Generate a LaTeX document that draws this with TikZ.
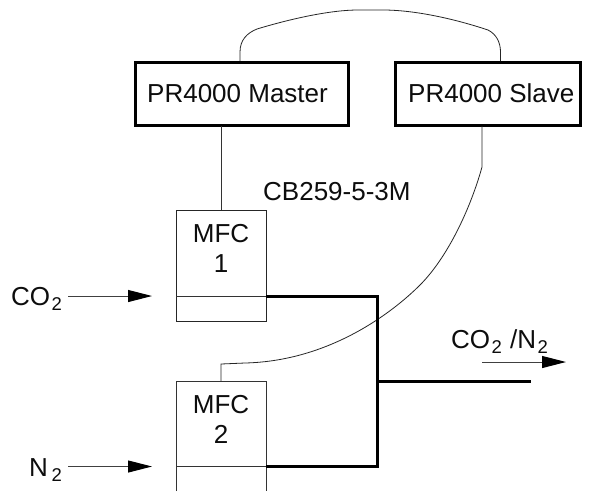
\documentclass[tikz,border=0pt]{standalone}
\usepackage{fontspec}
\setmainfont{Liberation Sans}
\usetikzlibrary{arrows.meta,calc}
\tikzset{
  x=1pt,y=-1pt,
  lbl/.style={inner sep=0pt,font=\fontsize{26}{30}\selectfont,text=black!95},
  ctrl/.style={draw=black,line width=2.6pt,minimum height=63pt,inner sep=0pt,anchor=north west},
  mfcbox/.style={draw=black!85,line width=1pt,minimum width=90pt,minimum height=111pt,inner sep=0pt,anchor=north west},
  thin wire/.style={draw=black!80,line width=.9pt},
  heavy/.style={draw=black,line width=3pt,line join=miter},
  flow/.style={draw=black!75,line width=1pt,-{Triangle[length=24pt,width=12pt,color=black]}},
}
\newcommand{\subt}[1]{\kern1.5pt\raisebox{-5pt}{\fontsize{18.5}{20}\selectfont #1}}
\begin{document}
\begin{tikzpicture}
\useasboundingbox (0,0) rectangle (601,491);
\fill[white] (0,0) rectangle (601,491);
% controllers
\node[ctrl,minimum width=213pt] (master) at (134,61) {};
\node[ctrl,minimum width=185pt] (slave) at (394,61) {};
\node[lbl,anchor=base west] (mastertext) at (147,102) {PR4000 Master};
\node[lbl,anchor=base west] (slavetext) at (408,102) {PR4000 Slave};
% MFC 1
\node[mfcbox] (mfc1) at (176,210) {};
\coordinate (mfc1w) at (176,296);
\coordinate (mfc1e) at (266,296);
\draw[thin wire] (mfc1w) -- (mfc1e);
\node[lbl,align=center,anchor=center] (mfc1text) at (221,248) {MFC\\1};
% MFC 2 (open at the bottom)
\coordinate (mfc2nw) at (176,381);
\coordinate (mfc2ne) at (266,381);
\coordinate (mfc2sw) at (176,491);
\coordinate (mfc2se) at (266,491);
\coordinate (mfc2w) at (176,466);
\coordinate (mfc2e) at (266,466);
\coordinate (mfc2top) at (221,381);
\draw[thin wire] (mfc2sw) -- (mfc2nw) -- (mfc2ne) -- (mfc2se);
\draw[thin wire] (mfc2w) -- (mfc2e);
\node[lbl,align=center,anchor=center] (mfc2text) at (221,419) {MFC\\2};
% cables
\coordinate (arcl) at (240,61);
\coordinate (arcr) at (500.5,61);
\draw[thin wire,draw=black!85,line width=.8pt] (arcl) -- (240,52) .. controls (240,40) and (247,33) .. (257,29)
  .. controls (290,19) and (330,10) .. (358,10) -- (383,10) .. controls (415,10) and (455,19) .. (488,30)
  .. controls (496,34) and (500.5,42) .. (500.5,52) -- (arcr);
\coordinate (m1) at (221,126);
\coordinate (mfc1top) at (221,210);
\draw[thin wire] (m1) -- (mfc1top);
\coordinate (s1) at (482,126);
\draw[thin wire,draw=black!85,line width=.8pt] (s1) -- (482,167) .. controls (470,210) and (447,258) .. (420,285)
  .. controls (393,312) and (330,361) .. (245,363) -- (221,364) -- (mfc2top);
\node[lbl,anchor=base west] (cable) at (263,200) {CB259-5-3M};
% gas inputs
\node[lbl,anchor=base east] (co2) at (62,305) {CO\subt{2}};
\node[lbl,anchor=base east] (n2) at (62,476) {N\kern2pt\subt{2}};
\coordinate (co2s) at (68,296);
\coordinate (co2e) at (152,296);
\coordinate (n2s) at (68,466.5);
\coordinate (n2e) at (152,466.5);
\draw[flow] (co2s) -- (co2e);
\draw[flow] (n2s) -- (n2e);
% gas lines
\coordinate (junctionA) at (377,296);
\coordinate (junctionB) at (377,466);
\coordinate (junctionC) at (377,381);
\coordinate (outend) at (531,381);
\draw[heavy] (mfc1e) -- (junctionA) -- (junctionB) -- (mfc2e);
\draw[heavy] (junctionC) -- (outend);
% output
\node[lbl,anchor=base west] (mix) at (451,348) {CO\subt{2}\kern1pt{} /N\subt{2}};
\coordinate (outs) at (482,362);
\coordinate (oute) at (566,362);
\draw[flow] (outs) -- (oute);
\end{tikzpicture}
\end{document}
